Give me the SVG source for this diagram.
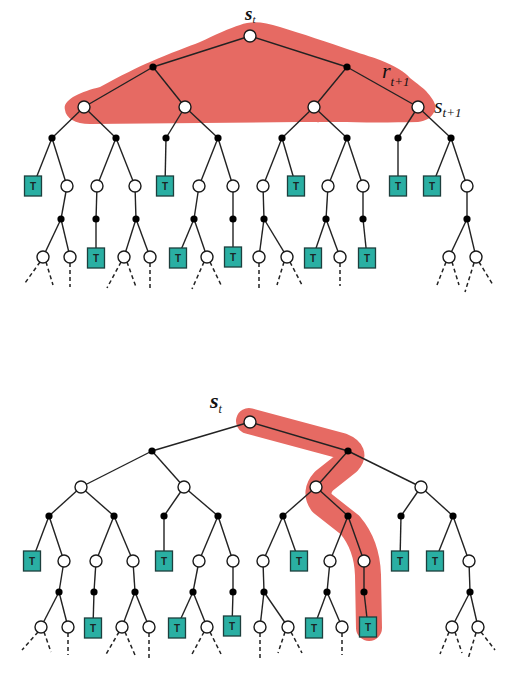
<svg xmlns="http://www.w3.org/2000/svg" width="521" height="678" viewBox="0 0 521 678">
<style>
.e{stroke:#222;stroke-width:1.4;fill:none}
.d{stroke:#222;stroke-width:1.5;stroke-dasharray:4 3;fill:none}
.s{fill:#fff;stroke:#1a1a1a;stroke-width:1.4}
.a{fill:#000}
.tb{fill:#2aafa3;stroke:#1d3f3d;stroke-width:1.3}
.tt{font-family:"Liberation Sans",Arial,sans-serif;font-size:10px;font-weight:bold;fill:#1a2626;text-anchor:middle}
.lb{font-family:"Liberation Serif","Times New Roman",serif;font-style:italic;fill:#111}
.hl{fill:#e66a63}
</style>
<defs>
<g id="tn"><rect class="tb" x="-8.5" y="-10" width="17" height="20"/><text class="tt" x="0" y="3.8">T</text></g>
</defs>
<rect width="521" height="678" fill="#fff"/>
<g id="highlights">
<path class="hl" d="M65 110 C62 100 80 92 100 87 C120 76 140 66 150 62 C170 53 190 46 200 42 C215 35 230 28 240 25 C250 21 262 21 280 27 C300 33 330 43 350 50 C365 55 375 58 380 60 C395 66 405 72 410 78 C418 84 423 88 426 91 C432 98 437 104 435 110 C432 118 426 121 418 122 C380 123 330 122 300 122 L90 124 C75 124 66 118 65 110 Z"/>
<path d="M249 421 L342 446 Q357 452 348 462 L324 481 Q314 492 322 503 L350 525 Q367 545 368 575 L369 628" fill="none" stroke="#e66a63" stroke-width="26" stroke-linejoin="round" stroke-linecap="round"/>
</g>
<g id="connectors">
<g id="top-edges" class="e">
<line x1="250" y1="36" x2="153" y2="67"/><line x1="250" y1="36" x2="347" y2="67"/>
<line x1="153" y1="67" x2="84" y2="107"/><line x1="153" y1="67" x2="185" y2="107"/><line x1="347" y1="67" x2="314" y2="107"/><line x1="347" y1="67" x2="418" y2="107"/>
<line x1="84" y1="107" x2="52" y2="138"/><line x1="84" y1="107" x2="116" y2="138"/><line x1="185" y1="107" x2="166" y2="138"/><line x1="185" y1="107" x2="218" y2="138"/><line x1="314" y1="107" x2="282" y2="138"/><line x1="314" y1="107" x2="347" y2="138"/><line x1="418" y1="107" x2="398" y2="138"/><line x1="418" y1="107" x2="451" y2="138"/>
<line x1="52" y1="138" x2="33" y2="186"/><line x1="52" y1="138" x2="67" y2="186"/><line x1="116" y1="138" x2="97" y2="186"/><line x1="116" y1="138" x2="135" y2="186"/><line x1="166" y1="138" x2="165" y2="186"/><line x1="218" y1="138" x2="199" y2="186"/><line x1="218" y1="138" x2="233" y2="186"/><line x1="282" y1="138" x2="263" y2="186"/><line x1="282" y1="138" x2="296" y2="186"/><line x1="347" y1="138" x2="328" y2="186"/><line x1="347" y1="138" x2="363" y2="186"/><line x1="398" y1="138" x2="398" y2="186"/><line x1="451" y1="138" x2="432" y2="186"/><line x1="451" y1="138" x2="467" y2="186"/>
<line x1="67" y1="186" x2="61" y2="219"/><line x1="97" y1="186" x2="96" y2="219"/><line x1="135" y1="186" x2="136" y2="219"/><line x1="199" y1="186" x2="194" y2="219"/><line x1="233" y1="186" x2="233" y2="219"/><line x1="263" y1="186" x2="264" y2="219"/><line x1="328" y1="186" x2="326" y2="219"/><line x1="363" y1="186" x2="363" y2="219"/><line x1="467" y1="186" x2="467" y2="219"/>
<line x1="61" y1="219" x2="43" y2="257"/><line x1="61" y1="219" x2="70" y2="257"/><line x1="96" y1="219" x2="96" y2="257"/><line x1="136" y1="219" x2="124" y2="257"/><line x1="136" y1="219" x2="150" y2="257"/><line x1="194" y1="219" x2="178" y2="257"/><line x1="194" y1="219" x2="207" y2="257"/><line x1="233" y1="219" x2="233" y2="257"/><line x1="264" y1="219" x2="259" y2="257"/><line x1="264" y1="219" x2="287" y2="257"/><line x1="326" y1="219" x2="313" y2="257"/><line x1="326" y1="219" x2="340" y2="257"/><line x1="363" y1="219" x2="367" y2="257"/><line x1="467" y1="219" x2="449" y2="257"/><line x1="467" y1="219" x2="476" y2="257"/>
</g>
<g id="top-dashes" class="d">
<line x1="40" y1="262" x2="25" y2="283"/><line x1="46" y1="262" x2="53" y2="285"/><line x1="70" y1="263" x2="70" y2="287"/><line x1="121" y1="262" x2="107" y2="288"/><line x1="127" y1="262" x2="136" y2="287"/><line x1="150" y1="263" x2="150" y2="290"/><line x1="204" y1="262" x2="192" y2="289"/><line x1="210" y1="262" x2="222" y2="287"/><line x1="259" y1="263" x2="259" y2="288"/><line x1="284" y1="262" x2="277" y2="285"/><line x1="290" y1="262" x2="302" y2="285"/><line x1="340" y1="263" x2="340" y2="286"/><line x1="446" y1="262" x2="437" y2="285"/><line x1="452" y1="262" x2="459" y2="285"/><line x1="474" y1="263" x2="465" y2="292"/><line x1="479" y1="262" x2="493" y2="285"/>
</g>
<g id="bottom-edges" class="e">
<line x1="250" y1="422" x2="152" y2="451"/><line x1="250" y1="422" x2="348" y2="451"/>
<line x1="152" y1="451" x2="81" y2="487"/><line x1="152" y1="451" x2="184" y2="487"/><line x1="348" y1="451" x2="316" y2="487"/><line x1="348" y1="451" x2="421" y2="487"/>
<line x1="81" y1="487" x2="49" y2="516"/><line x1="81" y1="487" x2="114" y2="516"/><line x1="184" y1="487" x2="164" y2="516"/><line x1="184" y1="487" x2="218" y2="516"/><line x1="316" y1="487" x2="283" y2="516"/><line x1="316" y1="487" x2="348" y2="516"/><line x1="421" y1="487" x2="401" y2="516"/><line x1="421" y1="487" x2="453" y2="516"/>
<line x1="49" y1="516" x2="32" y2="561"/><line x1="49" y1="516" x2="64" y2="561"/><line x1="114" y1="516" x2="96" y2="561"/><line x1="114" y1="516" x2="133" y2="561"/><line x1="164" y1="516" x2="164" y2="561"/><line x1="218" y1="516" x2="199" y2="561"/><line x1="218" y1="516" x2="233" y2="561"/><line x1="283" y1="516" x2="263" y2="561"/><line x1="283" y1="516" x2="299" y2="561"/><line x1="348" y1="516" x2="330" y2="561"/><line x1="348" y1="516" x2="364" y2="561"/><line x1="401" y1="516" x2="400" y2="561"/><line x1="453" y1="516" x2="435" y2="561"/><line x1="453" y1="516" x2="469" y2="561"/>
<line x1="64" y1="561" x2="59" y2="592"/><line x1="96" y1="561" x2="94" y2="592"/><line x1="133" y1="561" x2="135" y2="592"/><line x1="199" y1="561" x2="193" y2="592"/><line x1="233" y1="561" x2="233" y2="592"/><line x1="263" y1="561" x2="264" y2="592"/><line x1="330" y1="561" x2="327" y2="592"/><line x1="364" y1="561" x2="364" y2="592"/><line x1="469" y1="561" x2="470" y2="592"/>
<line x1="59" y1="592" x2="41" y2="627"/><line x1="59" y1="592" x2="68" y2="627"/><line x1="94" y1="592" x2="93" y2="627"/><line x1="135" y1="592" x2="122" y2="627"/><line x1="135" y1="592" x2="149" y2="627"/><line x1="193" y1="592" x2="177" y2="627"/><line x1="193" y1="592" x2="207" y2="627"/><line x1="233" y1="592" x2="232" y2="627"/><line x1="264" y1="592" x2="260" y2="627"/><line x1="264" y1="592" x2="288" y2="627"/><line x1="327" y1="592" x2="314" y2="627"/><line x1="327" y1="592" x2="342" y2="627"/><line x1="364" y1="592" x2="368" y2="627"/><line x1="470" y1="592" x2="452" y2="627"/><line x1="470" y1="592" x2="478" y2="627"/>
</g>
<g id="bottom-dashes" class="d">
<line x1="38" y1="632" x2="22" y2="650"/><line x1="44" y1="632" x2="51" y2="652"/><line x1="68" y1="633" x2="68" y2="655"/><line x1="119" y1="632" x2="105" y2="656"/><line x1="125" y1="632" x2="135" y2="655"/><line x1="149" y1="633" x2="149" y2="658"/><line x1="204" y1="632" x2="191" y2="656"/><line x1="210" y1="632" x2="221" y2="654"/><line x1="260" y1="633" x2="260" y2="658"/><line x1="285" y1="632" x2="278" y2="653"/><line x1="291" y1="632" x2="302" y2="653"/><line x1="342" y1="633" x2="342" y2="655"/><line x1="449" y1="632" x2="440" y2="654"/><line x1="455" y1="632" x2="462" y2="653"/><line x1="476" y1="633" x2="468" y2="659"/><line x1="481" y1="632" x2="495" y2="650"/>
</g>
</g>
<g id="top-tree">
<g id="t-root"><circle class="s" cx="250" cy="36" r="6"/></g>
<g id="t-a1"><circle class="a" cx="153" cy="67" r="3.6"/></g><g id="t-a2"><circle class="a" cx="347" cy="67" r="3.6"/></g>
<g id="t-s1"><circle class="s" cx="84" cy="107" r="6"/></g><g id="t-s2"><circle class="s" cx="185" cy="107" r="6"/></g><g id="t-s3"><circle class="s" cx="314" cy="107" r="6"/></g><g id="t-s4"><circle class="s" cx="418" cy="107" r="6"/></g>
<g id="t-l3"><circle class="a" cx="52" cy="138" r="3.6"/><circle class="a" cx="116" cy="138" r="3.6"/><circle class="a" cx="166" cy="138" r="3.6"/><circle class="a" cx="218" cy="138" r="3.6"/><circle class="a" cx="282" cy="138" r="3.6"/><circle class="a" cx="347" cy="138" r="3.6"/><circle class="a" cx="398" cy="138" r="3.6"/><circle class="a" cx="451" cy="138" r="3.6"/></g>
<g id="t-l4">
<use href="#tn" x="33" y="186"/><circle class="s" cx="67" cy="186" r="6"/><circle class="s" cx="97" cy="186" r="6"/><circle class="s" cx="135" cy="186" r="6"/><use href="#tn" x="165" y="186"/><circle class="s" cx="199" cy="186" r="6"/><circle class="s" cx="233" cy="186" r="6"/><circle class="s" cx="263" cy="186" r="6"/><use href="#tn" x="296" y="186"/><circle class="s" cx="328" cy="186" r="6"/><circle class="s" cx="363" cy="186" r="6"/><use href="#tn" x="398" y="186"/><use href="#tn" x="432" y="186"/><circle class="s" cx="467" cy="186" r="6"/>
</g>
<g id="t-l5"><circle class="a" cx="61" cy="219" r="3.6"/><circle class="a" cx="96" cy="219" r="3.6"/><circle class="a" cx="136" cy="219" r="3.6"/><circle class="a" cx="194" cy="219" r="3.6"/><circle class="a" cx="233" cy="219" r="3.6"/><circle class="a" cx="264" cy="219" r="3.6"/><circle class="a" cx="326" cy="219" r="3.6"/><circle class="a" cx="363" cy="219" r="3.6"/><circle class="a" cx="467" cy="219" r="3.6"/></g>
<g id="t-l6">
<circle class="s" cx="43" cy="257" r="6"/><circle class="s" cx="70" cy="257" r="6"/><use href="#tn" x="96" y="258"/><circle class="s" cx="124" cy="257" r="6"/><circle class="s" cx="150" cy="257" r="6"/><use href="#tn" x="178" y="258"/><circle class="s" cx="207" cy="257" r="6"/><use href="#tn" x="233" y="257"/><circle class="s" cx="259" cy="257" r="6"/><circle class="s" cx="287" cy="257" r="6"/><use href="#tn" x="313" y="258"/><circle class="s" cx="340" cy="257" r="6"/><use href="#tn" x="367" y="258"/><circle class="s" cx="449" cy="257" r="6"/><circle class="s" cx="476" cy="257" r="6"/>
</g>
</g>
<g id="bottom-tree">
<g id="b-root"><circle class="s" cx="250" cy="422" r="6"/></g>
<g id="b-a1"><circle class="a" cx="152" cy="451" r="3.6"/></g><g id="b-a2"><circle class="a" cx="348" cy="451" r="3.6"/></g>
<g id="b-s1"><circle class="s" cx="81" cy="487" r="6"/></g><g id="b-s2"><circle class="s" cx="184" cy="487" r="6"/></g><g id="b-s3"><circle class="s" cx="316" cy="487" r="6"/></g><g id="b-s4"><circle class="s" cx="421" cy="487" r="6"/></g>
<g id="b-l3"><circle class="a" cx="49" cy="516" r="3.6"/><circle class="a" cx="114" cy="516" r="3.6"/><circle class="a" cx="164" cy="516" r="3.6"/><circle class="a" cx="218" cy="516" r="3.6"/><circle class="a" cx="283" cy="516" r="3.6"/><circle class="a" cx="348" cy="516" r="3.6"/><circle class="a" cx="401" cy="516" r="3.6"/><circle class="a" cx="453" cy="516" r="3.6"/></g>
<g id="b-l4">
<use href="#tn" x="32" y="561"/><circle class="s" cx="64" cy="561" r="6"/><circle class="s" cx="96" cy="561" r="6"/><circle class="s" cx="133" cy="561" r="6"/><use href="#tn" x="164" y="561"/><circle class="s" cx="199" cy="561" r="6"/><circle class="s" cx="233" cy="561" r="6"/><circle class="s" cx="263" cy="561" r="6"/><use href="#tn" x="299" y="561"/><circle class="s" cx="330" cy="561" r="6"/><circle class="s" cx="364" cy="561" r="6"/><use href="#tn" x="400" y="561"/><use href="#tn" x="435" y="561"/><circle class="s" cx="469" cy="561" r="6"/>
</g>
<g id="b-l5"><circle class="a" cx="59" cy="592" r="3.6"/><circle class="a" cx="94" cy="592" r="3.6"/><circle class="a" cx="135" cy="592" r="3.6"/><circle class="a" cx="193" cy="592" r="3.6"/><circle class="a" cx="233" cy="592" r="3.6"/><circle class="a" cx="264" cy="592" r="3.6"/><circle class="a" cx="327" cy="592" r="3.6"/><circle class="a" cx="364" cy="592" r="3.6"/><circle class="a" cx="470" cy="592" r="3.6"/></g>
<g id="b-l6">
<circle class="s" cx="41" cy="627" r="6"/><circle class="s" cx="68" cy="627" r="6"/><use href="#tn" x="93" y="628"/><circle class="s" cx="122" cy="627" r="6"/><circle class="s" cx="149" cy="627" r="6"/><use href="#tn" x="177" y="628"/><circle class="s" cx="207" cy="627" r="6"/><use href="#tn" x="232" y="626"/><circle class="s" cx="260" cy="627" r="6"/><circle class="s" cx="288" cy="627" r="6"/><use href="#tn" x="314" y="628"/><circle class="s" cx="342" cy="627" r="6"/><use href="#tn" x="368" y="627"/><circle class="s" cx="452" cy="627" r="6"/><circle class="s" cx="478" cy="627" r="6"/>
</g>
</g>
<g id="labels">
<text class="lb" x="245" y="20" font-size="19" font-weight="bold">s<tspan font-size="11" font-weight="normal" dy="3">t</tspan></text>
<text class="lb" x="382" y="78" font-size="22">r<tspan font-size="13" dy="8">t+1</tspan></text>
<text class="lb" x="434" y="113" font-size="22">s<tspan font-size="13" dy="4">t+1</tspan></text>
<text class="lb" x="210" y="408" font-size="22" font-weight="bold">s<tspan font-size="12" font-weight="normal" dy="5">t</tspan></text>
</g>
</svg>
